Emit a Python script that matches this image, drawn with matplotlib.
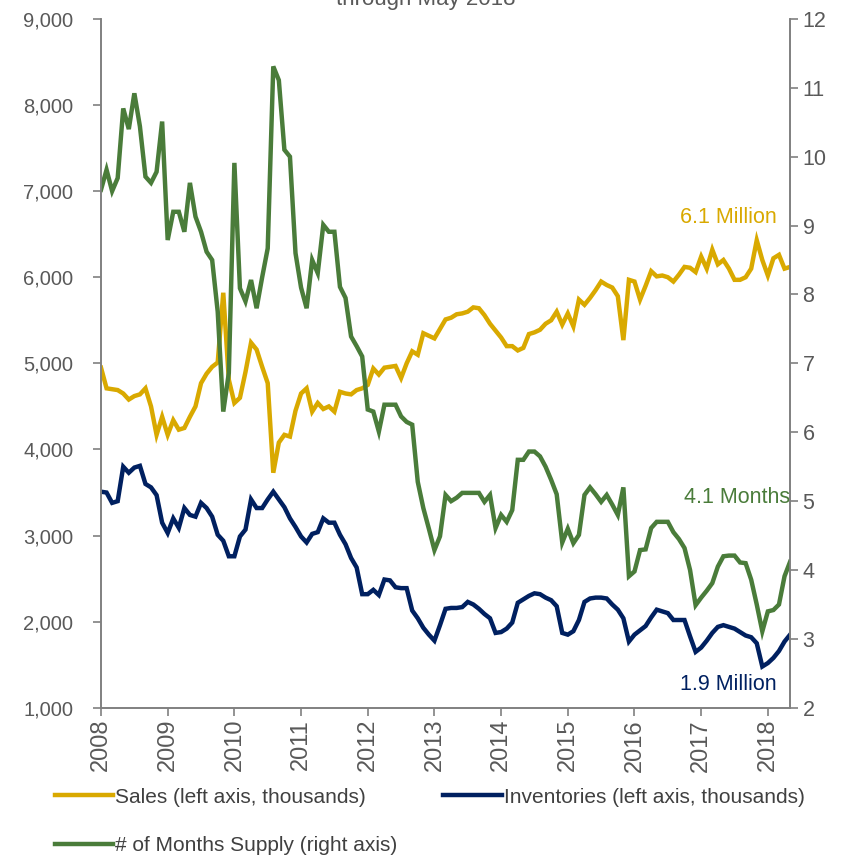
import matplotlib
matplotlib.use("Agg")
import matplotlib.pyplot as plt
import numpy as np
from matplotlib.ticker import FuncFormatter, MultipleLocator

plt.rcParams["font.family"] = ["Liberation Sans", "DejaVu Sans"]

# Monthly series, Jan 2008 - May 2018
START_YEAR = 2008
sales = [
    4950, 4710, 4700, 4690, 4650, 4580, 4620, 4640, 4710, 4500, 4170, 4380,
    4170, 4340, 4230, 4250, 4380, 4500, 4770, 4880, 4960, 5010, 5820, 4810,
    4540, 4600, 4900, 5240, 5160, 4960, 4770, 3730, 4080, 4170, 4150, 4450,
    4650, 4710, 4440, 4540, 4470, 4500, 4440, 4670, 4650, 4640, 4690, 4710,
    4750, 4940, 4870, 4950, 4960, 4970, 4830, 5000, 5140, 5100, 5350, 5320,
    5290, 5400, 5510, 5530, 5570, 5580, 5600, 5650, 5640, 5560, 5460, 5380,
    5300, 5200, 5200, 5150, 5180, 5340, 5360, 5390, 5460, 5500, 5600, 5450,
    5580, 5430, 5740, 5680, 5760, 5850, 5950, 5910, 5880, 5780, 5270, 5970,
    5950, 5740, 5900, 6070, 6010, 6020, 6000, 5950, 6030, 6120, 6110, 6060,
    6240, 6100, 6320, 6150, 6200, 6100, 5970, 5970, 6000, 6100, 6430, 6200,
    6020, 6220, 6260, 6100, 6120,
]
inventories = [
    3510, 3500, 3380, 3400, 3800, 3730, 3790, 3810, 3600, 3560, 3470, 3150,
    3030, 3200, 3090, 3320, 3240, 3220, 3380, 3320, 3220, 3010, 2940, 2760,
    2760, 2990, 3070, 3420, 3320, 3320, 3420, 3510, 3420, 3330, 3200, 3100,
    2990, 2920, 3020, 3040, 3200, 3150, 3150, 3010, 2900, 2740, 2630, 2320,
    2320, 2370, 2310, 2490, 2480, 2400, 2390, 2390, 2130, 2040, 1930, 1850,
    1780, 1960, 2150, 2160, 2160, 2170, 2230, 2200, 2150, 2090, 2040, 1870,
    1880, 1920, 1990, 2220, 2260, 2300, 2330, 2320, 2280, 2250, 2180, 1870,
    1850, 1890, 2020, 2230, 2270, 2280, 2280, 2270, 2200, 2140, 2040, 1770,
    1850, 1900, 1950, 2050, 2140, 2120, 2100, 2020, 2020, 2020, 1830, 1650,
    1700, 1780, 1870, 1940, 1960, 1940, 1920, 1880, 1840, 1820, 1750, 1480,
    1520, 1580, 1660, 1770, 1850,
]
months_supply = [
    9.52, 9.81, 9.50, 9.69, 10.70, 10.40, 10.92, 10.44, 9.71, 9.62, 9.78, 10.51,
    8.79, 9.20, 9.20, 8.91, 9.62, 9.13, 8.91, 8.62, 8.50, 7.75, 6.30, 6.86,
    9.91, 8.09, 7.90, 8.21, 7.80, 8.25, 8.67, 11.31, 11.11, 10.10, 10.00, 8.60,
    8.10, 7.80, 8.50, 8.31, 9.01, 8.91, 8.91, 8.11, 7.95, 7.39, 7.25, 7.10,
    6.33, 6.30, 6.01, 6.40, 6.40, 6.40, 6.23, 6.15, 6.11, 5.28, 4.90, 4.60,
    4.29, 4.49, 5.09, 5.00, 5.05, 5.12, 5.12, 5.12, 5.12, 4.99, 5.09, 4.61,
    4.80, 4.70, 4.87, 5.60, 5.60, 5.72, 5.72, 5.65, 5.50, 5.31, 5.10, 4.40,
    4.60, 4.39, 4.51, 5.09, 5.20, 5.10, 4.99, 5.09, 4.95, 4.80, 5.20, 3.91,
    3.98, 4.29, 4.30, 4.61, 4.70, 4.70, 4.70, 4.55, 4.45, 4.32, 4.00, 3.49,
    3.60, 3.70, 3.81, 4.05, 4.20, 4.21, 4.21, 4.11, 4.10, 3.86, 3.50, 3.11,
    3.40, 3.42, 3.50, 3.91, 4.12,
]
year_ticks = list(range(2008, 2019))

GOLD = "#D9A900"
NAVY = "#002060"
GREEN = "#4A7C3A"
GREY_TXT = "#595959"
GREY_AX = "#808080"

t = START_YEAR + np.arange(len(sales)) / 12.0

fig = plt.figure(figsize=(8.56, 8.58), dpi=100)
ax = fig.add_axes([0.118, 0.175, 0.805, 0.803])
ax2 = ax.twinx()

l_sales, = ax.plot(t, sales, color=GOLD, lw=3.2, solid_joinstyle="miter",
                   label="Sales (left axis, thousands)")
l_inv, = ax.plot(t, inventories, color=NAVY, lw=3.2, solid_joinstyle="miter",
                 label="Inventories (left axis, thousands)")
l_mos, = ax2.plot(t, months_supply, color=GREEN, lw=3.2, solid_joinstyle="miter",
                  label="# of Months Supply (right axis)")

ax.set_xlim(START_YEAR, t[-1])
ax.set_ylim(1000, 9000)
ax2.set_ylim(2, 12)
ax.yaxis.set_major_locator(MultipleLocator(1000))
ax.yaxis.set_major_formatter(FuncFormatter(lambda v, _: f"{v:,.0f}"))
ax2.yaxis.set_major_locator(MultipleLocator(1))
ax.set_xticks(year_ticks)
ax.set_xticklabels([str(y) for y in year_ticks], rotation=90)

for a in (ax, ax2):
    a.spines["top"].set_visible(False)
    for s in ("left", "right", "bottom"):
        a.spines[s].set_color(GREY_AX)
        a.spines[s].set_linewidth(1.2)
    a.tick_params(colors=GREY_TXT, labelsize=14.5, length=6, width=1.2,
                  direction="out")
    a.tick_params(axis="both", color=GREY_AX)
ax.tick_params(axis="y", pad=14)
ax.tick_params(axis="x", labelsize=17, pad=2)
ax2.tick_params(axis="y", labelsize=15.5, pad=3)

# end-of-series labels
ax.text(2018.13, 6690, "6.1 Million", color=GOLD, fontsize=15.5,
        ha="right", va="center")
ax.text(t[-1], 3440, "4.1 Months", color=GREEN, fontsize=15.5,
        ha="right", va="center")
ax.text(2018.13, 1270, "1.9 Million", color=NAVY, fontsize=15.5,
        ha="right", va="center")

fig.text(0.497, 0.994, "through May 2018", color=GREY_TXT, fontsize=16,
         ha="center", va="baseline")

fig.legend([l_sales, l_mos, l_inv],
           [l_sales.get_label(), l_mos.get_label(), l_inv.get_label()],
           loc="upper left", bbox_to_anchor=(0.064, 0.082), ncol=2,
           frameon=False, fontsize=15, handlelength=2.8, handletextpad=0.1,
           columnspacing=2.2, labelspacing=1.4, labelcolor="#404040",
           borderaxespad=0, borderpad=0)

fig.savefig("out.png", dpi=100)
